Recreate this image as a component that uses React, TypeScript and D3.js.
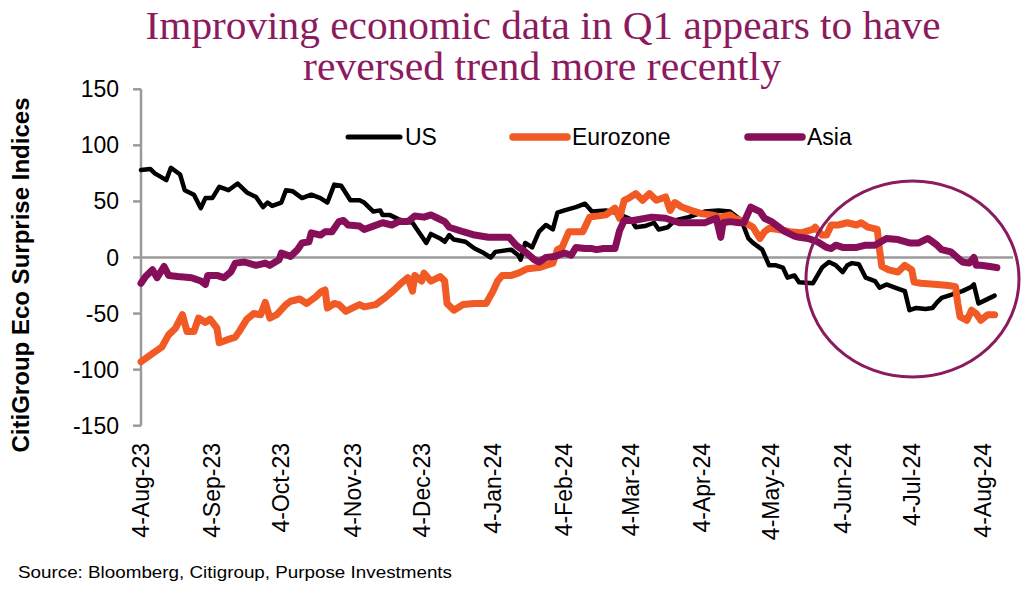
import React from 'react';
import * as d3 from 'd3';

const titleLines = ['Improving economic data in Q1 appears to have', 'reversed trend more recently'];
const yAxisTitle = 'CitiGroup Eco Surprise Indices';
const sourceText = 'Source: Bloomberg, Citigroup, Purpose Investments';
const yTicks = [150, 100, 50, 0, -50, -100, -150];
const xTickDates = ['2023-08-04','2023-09-04','2023-10-04','2023-11-04','2023-12-04','2024-01-04','2024-02-04','2024-03-04','2024-04-04','2024-05-04','2024-06-04','2024-07-04','2024-08-04'];
const xTickLabels = ['4-Aug-23','4-Sep-23','4-Oct-23','4-Nov-23','4-Dec-23','4-Jan-24','4-Feb-24','4-Mar-24','4-Apr-24','4-May-24','4-Jun-24','4-Jul-24','4-Aug-24'];
const xDomain = ['2023-08-04', '2024-08-17'];
const seriesNames = ['US', 'Eurozone', 'Asia'];

const usDates = ['2023-08-04','2023-08-08','2023-08-10','2023-08-15','2023-08-17','2023-08-21','2023-08-23','2023-08-27','2023-08-30','2023-09-01',
'2023-09-04','2023-09-07','2023-09-11','2023-09-15','2023-09-19','2023-09-23','2023-09-26','2023-09-28','2023-09-30','2023-10-04',
'2023-10-06','2023-10-09','2023-10-13','2023-10-17','2023-10-21','2023-10-24','2023-10-27','2023-10-30','2023-11-03','2023-11-07',
'2023-11-09','2023-11-13','2023-11-16','2023-11-17','2023-11-20','2023-11-24','2023-11-30','2023-12-02','2023-12-06','2023-12-08',
'2023-12-12','2023-12-14','2023-12-16','2023-12-18','2023-12-23','2023-12-27','2023-12-31','2024-01-03','2024-01-05','2024-01-12',
'2024-01-15','2024-01-16','2024-01-18','2024-01-21','2024-01-24','2024-01-27','2024-01-30','2024-02-01','2024-02-04','2024-02-09',
'2024-02-13','2024-02-16','2024-02-22','2024-02-26','2024-03-04','2024-03-06','2024-03-10','2024-03-14','2024-03-16','2024-03-20',
'2024-03-23','2024-03-29','2024-04-05','2024-04-11','2024-04-16','2024-04-21','2024-04-24','2024-04-26','2024-04-30','2024-05-03',
'2024-05-06','2024-05-09','2024-05-11','2024-05-14','2024-05-16','2024-05-22','2024-05-26','2024-05-29','2024-06-01','2024-06-04',
'2024-06-06','2024-06-08','2024-06-11','2024-06-14','2024-06-18','2024-06-20','2024-06-23','2024-06-27','2024-07-01','2024-07-03',
'2024-07-06','2024-07-10','2024-07-13','2024-07-15','2024-07-17','2024-07-20','2024-07-23','2024-07-26','2024-07-30','2024-07-31',
'2024-08-02','2024-08-05','2024-08-09'];
const usValues = [78,79,75,69,80,74,60,56,44,53,
53,63,60,66,58,54,45,49,46,49,
60,59,53,56,53,49,65,64,51,51,
49,41,42,38,38,34,31,25,13,21,
17,14,20,16,14,8,4,0,5,7,
2,-2,13,9,23,29,25,40,42,45,
48,41,42,40,34,27,28,31,25,27,
33,36,41,42,41,33,17,13,7,-7,
-7,-9,-18,-16,-22,-23,-9,-4,-7,-13,
-7,-5,-6,-18,-21,-27,-24,-27,-30,-47,
-45,-46,-45,-40,-36,-34,-32,-30,-26,-24,
-41,-38,-34];

const euDates = ['2023-08-04','2023-08-08','2023-08-13','2023-08-16','2023-08-19','2023-08-22','2023-08-24','2023-08-27','2023-08-29','2023-09-01',
'2023-09-03','2023-09-06','2023-09-07','2023-09-11','2023-09-14','2023-09-16','2023-09-19','2023-09-22','2023-09-25','2023-09-27',
'2023-09-29','2023-10-02','2023-10-06','2023-10-08','2023-10-12','2023-10-15','2023-10-19','2023-10-21','2023-10-23','2023-10-24',
'2023-10-27','2023-10-29','2023-11-01','2023-11-04','2023-11-07','2023-11-09','2023-11-14','2023-11-18','2023-11-22','2023-11-25',
'2023-11-28','2023-11-30','2023-12-01','2023-12-04','2023-12-05','2023-12-08','2023-12-12','2023-12-14','2023-12-15','2023-12-18',
'2023-12-22','2023-12-27','2024-01-01','2024-01-04','2024-01-06','2024-01-08','2024-01-12','2024-01-15','2024-01-19','2024-01-24',
'2024-01-27','2024-01-30','2024-02-01','2024-02-03','2024-02-06','2024-02-12','2024-02-15','2024-02-22','2024-02-26','2024-02-28',
'2024-03-01','2024-03-03','2024-03-06','2024-03-09','2024-03-12','2024-03-15','2024-03-19','2024-03-21','2024-03-23','2024-03-26',
'2024-03-30','2024-04-04','2024-04-08','2024-04-12','2024-04-16','2024-04-18','2024-04-21','2024-04-26','2024-04-29','2024-05-01',
'2024-05-03','2024-05-07','2024-05-12','2024-05-17','2024-05-22','2024-05-23','2024-05-26','2024-05-28','2024-05-30','2024-06-02',
'2024-06-06','2024-06-10','2024-06-12','2024-06-15','2024-06-19','2024-06-20','2024-06-21','2024-06-24','2024-06-28','2024-07-01',
'2024-07-04','2024-07-05','2024-07-08','2024-07-15','2024-07-20','2024-07-23','2024-07-24','2024-07-25','2024-07-28','2024-07-30',
'2024-08-01','2024-08-03','2024-08-06','2024-08-09'];
const euValues = [-93,-87,-80,-69,-63,-51,-66,-66,-54,-58,
-55,-63,-76,-73,-71,-65,-55,-50,-51,-40,
-54,-51,-42,-39,-37,-41,-35,-31,-29,-45,
-41,-42,-48,-45,-42,-44,-42,-36,-29,-23,
-18,-30,-16,-21,-14,-21,-17,-21,-41,-47,
-42,-41,-41,-30,-21,-16,-16,-14,-10,-9,
-7,-5,7,9,23,23,36,38,44,35,
51,53,57,51,57,51,54,42,49,45,
42,39,38,36,38,35,33,27,17,23,
26,25,23,22,25,27,20,20,29,29,
31,29,31,27,25,7,-8,-11,-13,-7,
-11,-22,-23,-24,-25,-26,-41,-53,-56,-47,
-50,-56,-51,-51];

const asiaDates = ['2023-08-04','2023-08-06','2023-08-09','2023-08-11','2023-08-14','2023-08-16','2023-08-20','2023-08-26','2023-08-30','2023-09-01',
'2023-09-02','2023-09-06','2023-09-09','2023-09-12','2023-09-14','2023-09-18','2023-09-23','2023-09-27','2023-09-29','2023-10-03',
'2023-10-04','2023-10-08','2023-10-11','2023-10-13','2023-10-16','2023-10-17','2023-10-21','2023-10-23','2023-10-26','2023-10-29',
'2023-10-31','2023-11-02','2023-11-07','2023-11-09','2023-11-13','2023-11-17','2023-11-21','2023-11-24','2023-11-28','2023-12-01',
'2023-12-05','2023-12-08','2023-12-11','2023-12-14','2023-12-16','2023-12-22','2023-12-27','2024-01-02','2024-01-08','2024-01-11',
'2024-01-14','2024-01-18','2024-01-22','2024-01-24','2024-01-27','2024-01-31','2024-02-04','2024-02-07','2024-02-09','2024-02-13',
'2024-02-16','2024-02-18','2024-02-21','2024-02-26','2024-02-28','2024-03-01','2024-03-05','2024-03-13','2024-03-19','2024-03-25',
'2024-03-30','2024-04-05','2024-04-10','2024-04-12','2024-04-13','2024-04-16','2024-04-20','2024-04-22','2024-04-25','2024-04-29',
'2024-05-01','2024-05-04','2024-05-08','2024-05-10','2024-05-14','2024-05-16','2024-05-20','2024-05-24','2024-05-28','2024-05-30',
'2024-06-01','2024-06-04','2024-06-10','2024-06-14','2024-06-18','2024-06-23','2024-06-28','2024-07-03','2024-07-07','2024-07-11',
'2024-07-15','2024-07-17','2024-07-21','2024-07-26','2024-07-29','2024-07-31','2024-08-01','2024-08-03','2024-08-07','2024-08-10'];
const asiaValues = [-23,-17,-11,-18,-8,-16,-17,-18,-21,-24,
-16,-16,-18,-13,-5,-4,-7,-5,-7,-2,
4,1,7,13,14,22,20,23,23,32,
33,29,28,25,28,31,29,32,32,37,
36,38,35,32,27,23,20,18,18,18,
11,5,-2,-4,0,1,4,2,9,8,
8,7,8,8,24,33,33,36,35,31,
31,31,35,18,31,32,31,31,45,41,
35,32,26,23,19,18,17,14,9,8,
11,9,9,11,11,17,16,13,13,17,
11,7,5,-4,-5,0,-7,-7,-8,-9];

const COLORS = { US: '#000000', Eurozone: '#F15A24', Asia: '#870F5A' };
const WIDTHS = { US: 4.5, Eurozone: 7, Asia: 7 };
const TITLE_COLOR = '#8B1A5E';
const AXIS_COLOR = '#9A9A9A';
const FONT = '"Liberation Sans", Arial, sans-serif';

const parse = d3.timeParse('%Y-%m-%d');

function zip(dates: string[], values: number[]): [Date, number][] {
  const n = Math.min(dates.length, values.length);
  const out: [Date, number][] = [];
  for (let i = 0; i < n; i++) out.push([parse(dates[i]) as Date, values[i]]);
  return out;
}

export default function App() {
  const W = 1024, H = 595;
  const x = d3.scaleTime().domain([parse(xDomain[0]) as Date, parse(xDomain[1]) as Date]).range([141, 1013]);
  const y = d3.scaleLinear().domain([-150, 150]).range([425.7, 89.3]);
  const line = d3.line<[Date, number]>().x(d => x(d[0])).y(d => y(d[1]));

  const series = [
    { name: seriesNames[0], data: zip(usDates, usValues) },
    { name: seriesNames[1], data: zip(euDates, euValues) },
    { name: seriesNames[2], data: zip(asiaDates, asiaValues) },
  ];

  const legend = [
    { name: 'US', x1: 348, x2: 400, tx: 405 },
    { name: 'Eurozone', x1: 513, x2: 567, tx: 572 },
    { name: 'Asia', x1: 748, x2: 802, tx: 807 },
  ];

  const serif = '"Liberation Serif", "DejaVu Serif", serif';

  return (
    <svg width={W} height={H} style={{ position: 'absolute', left: 0, top: 0, background: '#fff' }}>
      <rect x={0} y={0} width={W} height={H} fill="#fff" />
      {/* Title */}
      <text x={543} y={39} textAnchor="middle" fill={TITLE_COLOR}
        style={{ fontFamily: serif, fontSize: 40 }}
        textLength={795} lengthAdjust="spacingAndGlyphs">{titleLines[0]}</text>
      <text x={542} y={80} textAnchor="middle" fill={TITLE_COLOR}
        style={{ fontFamily: serif, fontSize: 40 }}
        textLength={478} lengthAdjust="spacingAndGlyphs">{titleLines[1]}</text>

      {/* Y axis */}
      <line x1={141} x2={141} y1={y(150)} y2={y(-150)} stroke={AXIS_COLOR} strokeWidth={2.5} />
      {yTicks.map(t => (
        <g key={t}>
          <line x1={133} x2={141} y1={y(t)} y2={y(t)} stroke={AXIS_COLOR} strokeWidth={2.5} />
          <text x={119} y={y(t)} dy="0.35em" textAnchor="end" fill="#000"
            style={{ fontFamily: FONT, fontSize: 23 }}>{t}</text>
        </g>
      ))}
      <text transform={`translate(29,275) rotate(-90)`} textAnchor="middle" fill="#000"
        style={{ fontFamily: FONT, fontSize: 23, fontWeight: 'bold' }}
        textLength={355} lengthAdjust="spacingAndGlyphs">{yAxisTitle}</text>

      {/* zero line */}
      <line x1={141} x2={1013} y1={y(0)} y2={y(0)} stroke={AXIS_COLOR} strokeWidth={2.5} />

      {/* X labels */}
      {xTickDates.map((d, i) => (
        <text key={d} transform={`translate(${x(parse(d) as Date)},443) rotate(-90)`} dy="0.35em"
          textAnchor="end" fill="#000" style={{ fontFamily: FONT, fontSize: 23 }}>{xTickLabels[i]}</text>
      ))}

      {/* Series */}
      {series.map(s => (
        <path key={s.name} d={line(s.data) || ''} fill="none" stroke={(COLORS as any)[s.name]}
          strokeWidth={(WIDTHS as any)[s.name]} strokeLinejoin="round" strokeLinecap="round" />
      ))}

      {/* Legend */}
      {legend.map(l => (
        <g key={l.name}>
          <line x1={l.x1} x2={l.x2} y1={137} y2={137} stroke={(COLORS as any)[l.name]}
            strokeWidth={(WIDTHS as any)[l.name] + 0.5} strokeLinecap="round" />
          <text x={l.tx} y={137} dy="0.35em" fill="#000" style={{ fontFamily: FONT, fontSize: 23 }}>{l.name}</text>
        </g>
      ))}

      {/* Highlight circle */}
      <ellipse cx={912.5} cy={279} rx={106.5} ry={98} fill="none" stroke={TITLE_COLOR} strokeWidth={3} />

      {/* Source */}
      <text x={18} y={578} fill="#000" style={{ fontFamily: FONT, fontSize: 17 }}
        textLength={434} lengthAdjust="spacingAndGlyphs">{sourceText}</text>
    </svg>
  );
}
